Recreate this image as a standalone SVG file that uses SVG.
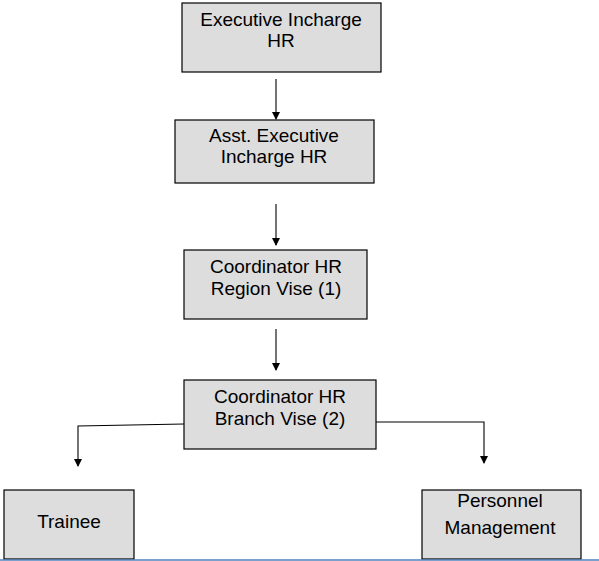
<svg xmlns="http://www.w3.org/2000/svg" width="599" height="561" viewBox="0 0 599 561">
<defs>
<marker id="ah" markerWidth="8" markerHeight="8" refX="7" refY="4" orient="auto" markerUnits="userSpaceOnUse">
<path d="M0,0 L8,4 L0,8 Z" fill="#000"/>
</marker>
<style>
.box{fill:#dddddd;stroke:#000;stroke-width:1.2}
.t{font-family:"Liberation Sans",Arial,sans-serif;font-size:19px;fill:#000;text-anchor:middle}
.c{fill:none;stroke:#000;stroke-width:1.1}
</style>
</defs>
<rect width="599" height="561" fill="#fff"/>
<g id="n1"><rect class="box" x="182" y="3" width="199" height="69"/><text class="t" x="281" y="26">Executive Incharge</text><text class="t" x="281" y="47">HR</text></g>
<g id="n2"><rect class="box" x="175" y="120" width="199" height="63"/><text class="t" x="274" y="142">Asst. Executive</text><text class="t" x="274" y="163">Incharge HR</text></g>
<g id="n3"><rect class="box" x="184" y="250" width="183" height="69"/><text class="t" x="276" y="273">Coordinator HR</text><text class="t" x="276" y="295">Region Vise (1)</text></g>
<g id="n4"><rect class="box" x="184" y="380" width="192" height="69"/><text class="t" x="280" y="403">Coordinator HR</text><text class="t" x="280" y="425">Branch Vise (2)</text></g>
<g id="n5"><rect class="box" x="4" y="490" width="130" height="69"/><text class="t" x="69" y="528">Trainee</text></g>
<g id="n6"><rect class="box" x="422" y="490" width="159" height="69"/><text class="t" x="500" y="507">Personnel</text><text class="t" x="500" y="534">Management</text></g>
<g id="connectors">
<line class="c" x1="276" y1="79" x2="276" y2="119" marker-end="url(#ah)"/>
<line class="c" x1="276" y1="204" x2="276" y2="245" marker-end="url(#ah)"/>
<line class="c" x1="276" y1="329" x2="276" y2="370" marker-end="url(#ah)"/>
<polyline class="c" points="184,424 78,426 78,466" marker-end="url(#ah)"/>
<polyline class="c" points="376,422 484,422 484,463" marker-end="url(#ah)"/>
</g>
<line x1="0" y1="560" x2="599" y2="560" stroke="#4f81bd" stroke-width="1.5"/>
</svg>
